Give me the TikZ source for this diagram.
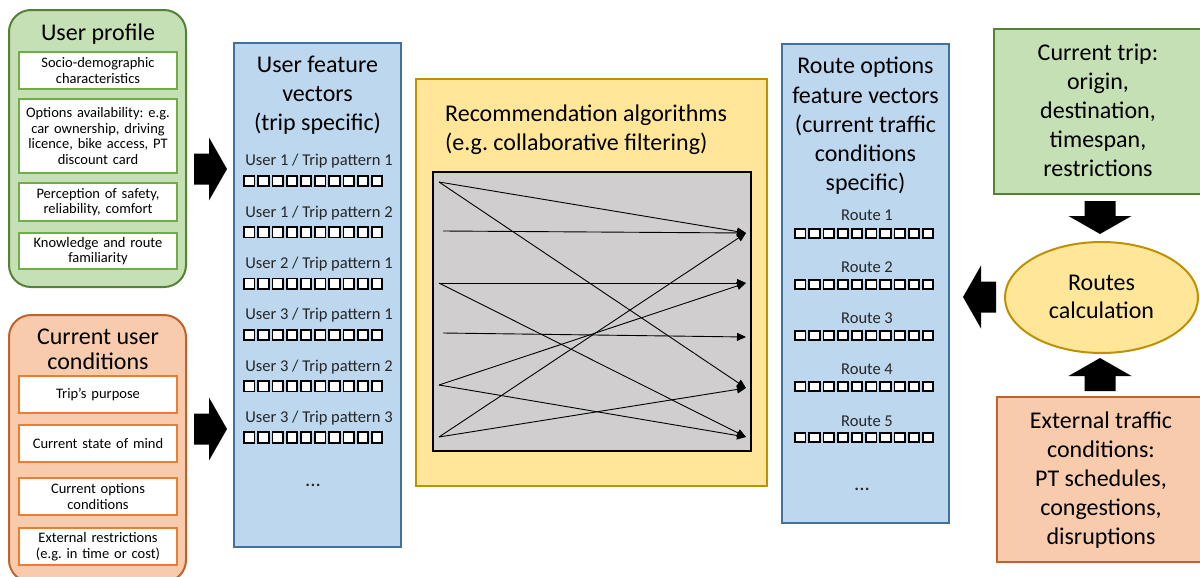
\documentclass[tikz,border=0pt]{standalone}
\usepackage{fontspec}
\setmainfont{Carlito}
\usetikzlibrary{arrows.meta,shapes.geometric}
\frenchspacing

\definecolor{greenfill}{HTML}{C5E0B4}
\definecolor{greenline}{HTML}{548235}
\definecolor{greenitem}{HTML}{70AD47}
\definecolor{orangefill}{HTML}{F8CBAD}
\definecolor{orangeline}{HTML}{C0622A}
\definecolor{orangeitem}{HTML}{ED7D31}
\definecolor{bluefill}{HTML}{BDD7EE}
\definecolor{blueline}{HTML}{41719C}
\definecolor{yellowfill}{HTML}{FFE699}
\definecolor{yellowline}{HTML}{BF9000}
\definecolor{greyfill}{HTML}{D0CECE}

\newcommand\fsz[2]{\fontsize{#1}{#2}\selectfont}

\tikzset{
  panel/.style={rounded corners=22pt, line width=2pt, minimum width=177pt, inner sep=0pt},
  greenpanel/.style={panel, draw=greenline, fill=greenfill},
  orangepanel/.style={panel, draw=orangeline, fill=orangefill},
  item/.style={fill=white, line width=1.8pt, minimum width=158pt, text width=156pt,
    align=center, inner sep=0pt, font=\fsz{14.5}{15.6}},
  greenitem/.style={item, draw=greenitem},
  orangeitem/.style={item, draw=orangeitem},
  bigtext/.style={align=center, inner sep=0pt, font=\fsz{24}{#1}},
  bigtext/.default=29,
  vecbox/.style={draw=blueline, fill=bluefill, line width=1.5pt, minimum width=167pt, inner sep=0pt},
  rowlabel/.style={inner sep=0pt, font=\fsz{16.5}{18}, text=black!85},
  dots/.style={inner sep=0pt, font=\fsz{21}{24}, text=black!85, anchor=base},
  cell/.style={draw=black, line width=1.8pt, fill=white},
  flow/.style={draw=black, line width=0.9pt, -{Triangle[length=9pt,width=8pt]}},
  blockarrow/.pic={
    \fill[black] (0,0) -- (-18,-31.5) -- (-18,-15.5) -- (-33,-15.5)
      -- (-33,15.5) -- (-18,15.5) -- (-18,31.5) -- cycle;
  }
}

\begin{document}
\begin{tikzpicture}[x=1pt,y=-1pt]
\useasboundingbox (0,0) rectangle (1200,576);

% ---- User profile panel ----
\node[greenpanel, minimum height=277pt] (profile) at (97.5,148.5) {};
\node[bigtext] (profiletitle) at (98,34) {User profile};
\node[greenitem, minimum height=37pt] (p1) at (98,70.5) {Socio-demographic\\characteristics};
\node[greenitem, minimum height=74pt] (p2) at (98,136) {Options availability: e.g.\\car ownership, driving\\licence, bike access, PT\\discount card};
\node[greenitem, minimum height=38pt] (p3) at (98,202) {Perception of safety,\\reliability, comfort};
\node[greenitem, minimum height=36pt] (p4) at (98,251) {Knowledge and route\\familiarity};

% ---- Current user conditions panel ----
\node[orangepanel, minimum height=267pt] (conditions) at (97.5,448.5) {};
\node[bigtext=25] (condtitle) at (98,349) {Current user\\conditions};
\node[orangeitem, minimum height=37pt] (c1) at (98,394.5) {Trip’s purpose};
\node[orangeitem, minimum height=37pt] (c2) at (98,443.5) {Current state of mind};
\node[orangeitem, minimum height=37pt] (c3) at (98,496.5) {Current options\\conditions};
\node[orangeitem, minimum height=37pt] (c4) at (98,546.5) {External restrictions\\(e.g. in time or cost)};

% ---- block arrows into the user vectors ----
\pic at (227,169) {blockarrow};
\pic at (227,429) {blockarrow};

% ---- User feature vectors ----
\node[vecbox, minimum height=504pt] (users) at (317.5,295) {};
\node[bigtext=29] (userstitle) at (317.5,95) {User feature\\vectors\\(trip specific)};
\foreach \lab [count=\k from 0] in {User 1 / Trip pattern 1, User 1 / Trip pattern 2,
    User 2 / Trip pattern 1, User 3 / Trip pattern 1, User 3 / Trip pattern 2,
    User 3 / Trip pattern 3} {
  \node[rowlabel] (u\k) at (319,{161.5+51.3*\k}) {\lab};
  \foreach \i in {0,...,9}
    \draw[cell] ({244+14.2*\i},{181+51.3*\k-5.2}) rectangle ++(10.4,10.4);
}
\node[dots] (udots) at (313,486) {...};

% ---- Recommendation algorithms ----
\node[draw=yellowline, fill=yellowfill, line width=2pt, minimum width=351pt,
      minimum height=407pt, inner sep=0pt] (algo) at (591.5,282.5) {};
\node[anchor=west, align=left, inner sep=0pt, font=\fsz{24}{29}] (algotitle) at (445,130)
  {Recommendation algorithms\\(e.g. collaborative filtering)};
\node[draw=black, fill=greyfill, line width=2pt, minimum width=318pt,
      minimum height=279pt, inner sep=0pt] (matrix) at (592,311.5) {};

\coordinate (s1) at (439,182);
\coordinate (s2) at (443,231);
\coordinate (s3) at (439,283);
\coordinate (s4) at (443,333);
\coordinate (s5) at (439,385);
\coordinate (s6) at (439,437);
\coordinate (t1) at (746,233);
\coordinate (t2) at (746,283);
\coordinate (t3) at (746,337);
\coordinate (t4) at (746,388);
\coordinate (t5) at (746,437);

\draw[flow] (s1) -- (t1);
\draw[flow] (s1) -- (t4);
\draw[flow] (s2) -- (t1);
\draw[flow] (s3) -- (t2);
\draw[flow] (s3) -- (t5);
\draw[flow] (s4) -- (t3);
\draw[flow] (s5) -- (t2);
\draw[flow] (s5) -- (t5);
\draw[flow] (s6) -- (t1);
\draw[flow] (s6) -- (t4);

% ---- Route options feature vectors ----
\node[vecbox, minimum height=479pt] (routes) at (865.5,283.5) {};
\node[bigtext=29.3] (routestitle) at (865.5,126) {Route options\\feature vectors\\(current traffic\\conditions\\specific)};
\foreach \k in {0,...,4} {
  \pgfmathtruncatemacro\num{\k+1}
  \node[rowlabel] (r\k) at (867,{215.5+51.4*\k}) {Route \num};
  \foreach \i in {0,...,9}
    \draw[cell] ({795+14.2*\i},{233.5+51*\k-4.5}) rectangle ++(10.4,9);
}
\node[dots] (rdots) at (862,490) {...};

% ---- Current trip and external conditions ----
\node[draw=greenline, fill=greenfill, line width=2pt, minimum width=211pt,
      minimum height=165pt, inner sep=0pt] (trip) at (1099.5,111.5) {};
\node[bigtext=29] (triptext) at (1098,110.5) {Current trip:\\origin,\\destination,\\timespan,\\restrictions};

\node[ellipse, draw=yellowline, fill=yellowfill, line width=2pt, minimum width=193pt,
      minimum height=111pt, inner sep=0pt] (calc) at (1101.5,297.5) {};
\node[bigtext=28.5] (calctext) at (1101.5,297) {Routes\\calculation};

\node[draw=orangeline, fill=orangefill, line width=2pt, minimum width=208pt,
      minimum height=165pt, inner sep=0pt] (traffic) at (1101,479.5) {};
\node[bigtext=29] (traffictext) at (1101,480.5) {External traffic\\conditions:\\PT schedules,\\congestions,\\disruptions};

\pic[rotate=-90] at (1100,234) {blockarrow};
\pic[rotate=90] at (1100,358) {blockarrow};
\pic[rotate=180] at (963,297) {blockarrow};
\end{tikzpicture}
\end{document}
